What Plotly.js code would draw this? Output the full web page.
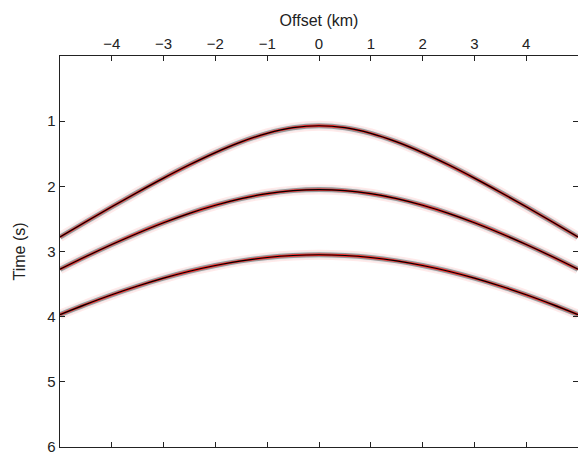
<!DOCTYPE html>
<html>
<head>
<meta charset="utf-8">
<script src="https://cdn.plot.ly/plotly-3.0.1.min.js"></script>
<style>html,body{margin:0;padding:0;background:#fff;}#chart{width:578px;height:452px;}</style>
</head>
<body>
<div id="chart"></div>
<script>
// Offsets (km) at which the traveltimes were read
const offsets = [-5, -4.5, -4, -3.5, -3, -2.5, -2, -1.5, -1, -0.5, 0, 0.5, 1, 1.5, 2, 2.5, 3, 3.5, 4, 4.5, 5];
// Event 1 traveltimes (s)
const event1 = [2.778, 2.544, 2.314, 2.090, 1.874, 1.670, 1.482, 1.318, 1.187, 1.100, 1.070, 1.100, 1.187, 1.318, 1.482, 1.670, 1.874, 2.090, 2.314, 2.544, 2.778];
// Event 2 traveltimes (s)
const event2 = [3.273, 3.078, 2.893, 2.719, 2.558, 2.414, 2.290, 2.188, 2.113, 2.066, 2.050, 2.066, 2.113, 2.188, 2.290, 2.414, 2.558, 2.719, 2.893, 3.078, 3.273];
// Event 3 traveltimes (s)
const event3 = [3.968, 3.811, 3.664, 3.530, 3.409, 3.303, 3.215, 3.144, 3.092, 3.061, 3.050, 3.061, 3.092, 3.144, 3.215, 3.303, 3.409, 3.530, 3.664, 3.811, 3.968];
const xTicks = [-4, -3, -2, -1, 0, 1, 2, 3, 4];
const yTicks = [1, 2, 3, 4, 5, 6];

const events = [event1, event2, event3];
const layers = [
  {color: 'rgba(255,140,140,0.18)', width: 10},
  {color: 'rgba(200,225,230,0.35)', width: 7},
  {color: 'rgba(100,100,100,0.6)', width: 5},
  {color: '#ff2020', width: 2.4},
  {color: '#000000', width: 1.2}
];
const traces = [];
events.forEach(ev => {
  layers.forEach(l => {
    traces.push({
      x: offsets, y: ev, type: 'scatter', mode: 'lines',
      line: {color: l.color, width: l.width, shape: 'spline', smoothing: 1},
      hoverinfo: 'skip', showlegend: false
    });
  });
});

const fam = 'Liberation Sans, Arial, Helvetica, sans-serif';
const layout = {
  width: 578, height: 452,
  margin: {l: 60, r: 0, t: 56, b: 5, pad: 0},
  paper_bgcolor: '#fff', plot_bgcolor: '#fff',
  font: {family: fam, size: 15, color: '#222'},
  showlegend: false,
  xaxis: {
    side: 'top', range: [-5, 5], tickvals: xTicks, ticktext: xTicks.map(v => v < 0 ? '\u2212' + Math.abs(v) : String(v)),
    ticks: 'inside', ticklen: 5, tickwidth: 1, tickcolor: '#222',
    showline: true, linecolor: '#222', linewidth: 1.3, mirror: 'ticks',
    showgrid: false, zeroline: false, automargin: false,
    tickfont: {size: 15, color: '#222', family: fam},
    title: {text: 'Offset (km)', font: {size: 16, color: '#222', family: fam}, standoff: 4}
  },
  yaxis: {
    range: [6, 0], tickvals: yTicks,
    ticks: 'inside', ticklen: 5, tickwidth: 1, tickcolor: '#222',
    showline: true, linecolor: '#222', linewidth: 1.3, mirror: 'ticks',
    showgrid: false, zeroline: false, automargin: false,
    ticklabeloverflow: 'allow',
    tickfont: {size: 15, color: '#222', family: fam},
    title: {text: 'Time (s)', font: {size: 16, color: '#222', family: fam}, standoff: 17}
  }
};
Plotly.newPlot('chart', traces, layout, {staticPlot: true, displayModeBar: false});
</script>
</body>
</html>
